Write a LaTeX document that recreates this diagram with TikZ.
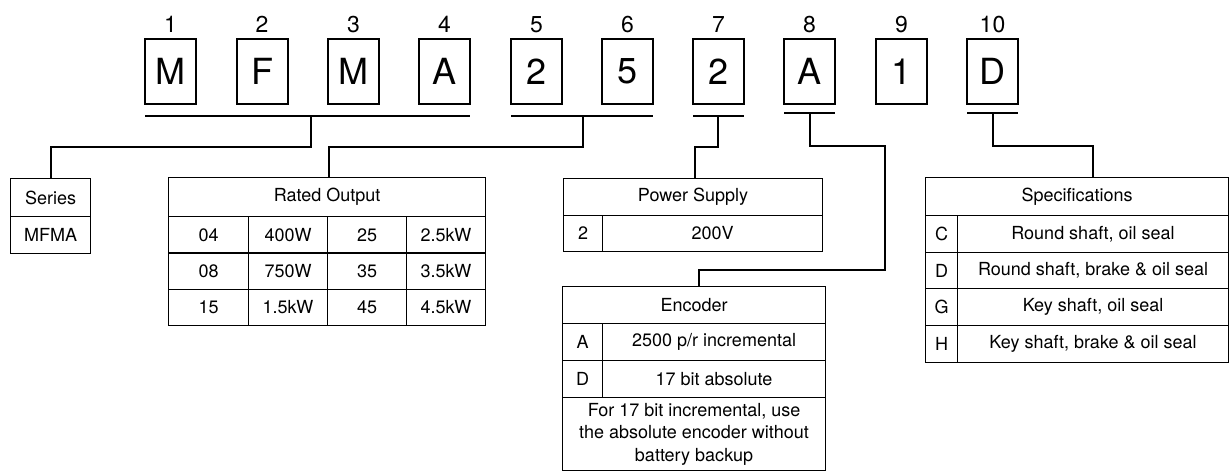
\documentclass[tikz,border=0pt]{standalone}
\usepackage{fontspec}
\setmainfont{TeX Gyre Heros}
\begin{document}
\begin{tikzpicture}[x=1pt,y=-1pt,
  digitbox/.style={draw,line width=2pt,minimum width=51pt,minimum height=65pt,inner sep=0pt,font=\fontsize{36}{36}\selectfont},
  numlbl/.style={anchor=base,inner sep=0pt,font=\fontsize{23}{23}\selectfont},
  uline/.style={line width=2pt},
  conn/.style={line width=2pt},
  cell/.style={draw,line width=1.1pt,inner sep=0pt,anchor=north west,font=\fontsize{18}{20}\selectfont},
  note/.style={cell,align=center,font=\fontsize{18}{22.5}\selectfont}
]
\useasboundingbox (0,0) rectangle (1230,471);
% top code boxes
\foreach \i/\x/\t in {1/170.5/M,2/262/F,3/353.5/M,4/444.5/A,5/536.5/2,6/627.5/5,7/718.5/2,8/809.5/A,9/901.5/1,10/992.5/D}{
  \node[digitbox] (b\i) at (\x,71.5) {\t};
  \node[numlbl] (n\i) at (\x,32) {\i};
}
% underlines
\draw[uline] (145,116) -- (470,116);
\draw[uline] (511,116) -- (653,116);
\draw[uline] (693,116) -- (744,116);
\draw[uline] (784,113) -- (835,113);
\draw[uline] (967,113) -- (1018,113);
\coordinate (u14) at (311,116);
\coordinate (u56) at (583,116);
\coordinate (u7) at (718,116);
\coordinate (u8) at (810,113);
\coordinate (u10) at (993,113);
% Series
\node[cell,minimum width=80pt,minimum height=38pt] (ser) at (10,178) {Series};
\node[cell,minimum width=80pt,minimum height=37pt] (serv) at (10,216) {MFMA};
% Rated Output
\node[cell,minimum width=317pt,minimum height=39pt] (ro) at (168,177) {Rated Output};
\foreach \r/\y/\a/\b/\c/\d in {1/216/04/400W/25/2.5kW,2/252.3/08/750W/35/3.5kW,3/288.6/15/1.5kW/45/4.5kW}{
  \node[cell,minimum width=80pt,minimum height=36.4pt] (ro\r a) at (168,\y) {\a};
  \node[cell,minimum width=79pt,minimum height=36.4pt] (ro\r b) at (248,\y) {\b};
  \node[cell,minimum width=79pt,minimum height=36.4pt] (ro\r c) at (327,\y) {\c};
  \node[cell,minimum width=79pt,minimum height=36.4pt] (ro\r d) at (406,\y) {\d};
}
% Power Supply
\node[cell,minimum width=259pt,minimum height=37pt] (ps) at (563,178) {Power Supply};
\node[cell,minimum width=39pt,minimum height=36pt] (ps1) at (563,215) {2};
\node[cell,minimum width=220pt,minimum height=36pt] (ps2) at (602,215) {200V};
% Encoder
\node[cell,minimum width=263pt,minimum height=37pt] (enc) at (562,286) {Encoder};
\node[cell,minimum width=40pt,minimum height=37pt] (enc1) at (562,323) {A};
\node[cell,minimum width=223pt,minimum height=37pt] (enc2) at (602,323) {2500 p/r incremental};
\node[cell,minimum width=40pt,minimum height=37pt] (enc3) at (562,360) {D};
\node[cell,minimum width=223pt,minimum height=37pt] (enc4) at (602,360) {17 bit absolute};
\node[note,minimum width=263pt,minimum height=73pt] (encn) at (562,397) {For 17 bit incremental, use\\the absolute encoder without\\battery backup};
% Specifications
\node[cell,minimum width=303pt,minimum height=38pt] (sp) at (925,177) {Specifications};
\foreach \r/\y/\h/\k/\t in {1/215/37/C/{Round shaft, oil seal},2/252/36/D/{Round shaft, brake \& oil seal},3/288/37/G/{Key shaft, oil seal},4/325/37/H/{Key shaft, brake \& oil seal}}{
  \node[cell,minimum width=32pt,minimum height=\h pt] (sp\r a) at (925,\y) {\k};
  \node[cell,minimum width=271pt,minimum height=\h pt] (sp\r b) at (957,\y) {\t};
}
% connectors
\draw[conn] (u14) -- ++(0,31) -| (ser.north);
\draw[conn] (u56) -- ++(0,31) -| ([xshift=2pt]ro.north);
\draw[conn] (u7) -- ++(0,31) -| ([xshift=1.5pt]ps.north);
\draw[conn] (u8) -- ++(0,33) -| ++(75,124) -| ([xshift=4.5pt]enc.north);
\draw[conn] (u10) -- ++(0,33) -| ([xshift=15.5pt]sp.north);
\end{tikzpicture}
\end{document}
